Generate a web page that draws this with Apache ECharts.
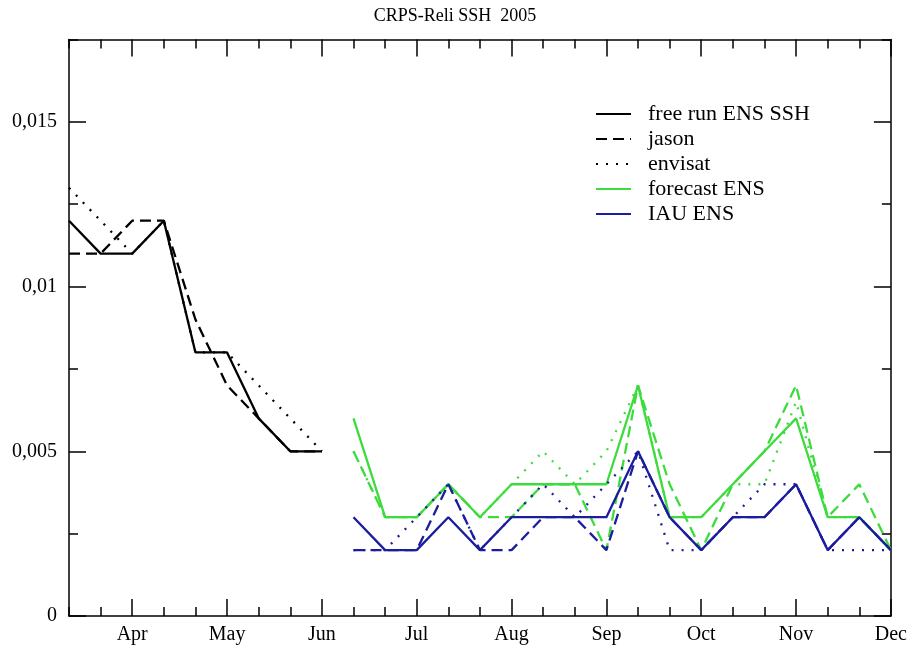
<!DOCTYPE html>
<html>
<head>
<meta charset="utf-8">
<script src="https://cdn.jsdelivr.net/npm/echarts@6/dist/echarts.min.js"></script>
<style>
html,body{margin:0;padding:0;background:#fff;}
#chart{width:910px;height:647px;}
</style>
</head>
<body>
<div id="chart"></div>
<script>
// ---- data ----
const monthPos    = [2, 5, 8, 11, 14, 17, 20, 23, 26];
const monthLabels = ['Apr', 'May', 'Jun', 'Jul', 'Aug', 'Sep', 'Oct', 'Nov', 'Dec'];
const yTicks      = [0, 0.005, 0.01, 0.015];

// free-run period (dekad index)
const freeRunX = [0, 1, 2, 3, 4, 5, 6, 7, 8];
const freeRun  = [0.012, 0.011, 0.011, 0.012, 0.008, 0.008, 0.006, 0.005, 0.005];
const jason    = [0.011, 0.011, 0.012, 0.012, 0.009, 0.007, 0.006, 0.005, 0.005];
const envisat  = [0.013, 0.012, 0.011, 0.012, 0.008, 0.008, 0.007, 0.006, 0.005];

// assimilation period (dekad index)
const assimX     = [9, 10, 11, 12, 13, 14, 15, 16, 17, 18, 19, 20, 21, 22, 23, 24, 25, 26];
const fcEns      = [0.006, 0.003, 0.003, 0.004, 0.003, 0.004, 0.004, 0.004, 0.004, 0.007, 0.003, 0.003, 0.004, 0.005, 0.006, 0.003, 0.003, 0.002];
const fcJason    = [0.005, 0.003, 0.003, 0.004, 0.003, 0.003, 0.004, 0.004, 0.002, 0.007, 0.004, 0.002, 0.004, 0.005, 0.007, 0.003, 0.004, 0.002];
const fcEnvisat  = [0.005, 0.003, 0.003, 0.004, 0.003, 0.004, 0.005, 0.004, 0.005, 0.007, 0.003, 0.003, 0.004, 0.004, 0.0065, 0.003, 0.003, 0.002];
const iauEns     = [0.003, 0.002, 0.002, 0.003, 0.002, 0.003, 0.003, 0.003, 0.003, 0.005, 0.003, 0.002, 0.003, 0.003, 0.004, 0.002, 0.003, 0.002];
const iauJason   = [0.002, 0.002, 0.002, 0.004, 0.002, 0.002, 0.003, 0.003, 0.002, 0.005, 0.003, 0.002, 0.003, 0.003, 0.004, 0.002, 0.003, 0.002];
const iauEnvisat = [0.002, 0.002, 0.003, 0.004, 0.002, 0.003, 0.004, 0.003, 0.004, 0.005, 0.002, 0.002, 0.003, 0.004, 0.004, 0.002, 0.002, 0.002];

// ---- styling ----
const SERIF = '"Liberation Serif", "DejaVu Serif", serif';
const BLACK = '#000000';
const GREEN = '#3ddc3d';
const BLUE  = '#1c1c9e';
const SOLID = 'solid';
const DASH  = [11, 6];
const DOT   = [2, 8];

function pairs(xs, ys) { return xs.map((x, i) => [x, ys[i]]); }

function lineSeries(name, xs, ys, color, type) {
  return {
    name: name,
    type: 'line',
    xAxisIndex: 0,
    yAxisIndex: 0,
    data: pairs(xs, ys),
    symbol: 'none',
    showSymbol: false,
    silent: true,
    animation: false,
    lineStyle: { color: color, width: 2.3, type: type, cap: 'butt' },
    itemStyle: { color: color }
  };
}

const axisLineStyle = { color: '#000', width: 1.5 };

function xAxisDef(position, major) {
  const base = {
    type: 'value', min: 0, max: 26, position: position,
    splitLine: { show: false },
    axisLine: { show: major, onZero: false, lineStyle: axisLineStyle },
    axisLabel: { show: false },
    axisPointer: { show: false }
  };
  if (major) {
    base.axisTick = { show: true, inside: true, length: 17, customValues: monthPos, lineStyle: axisLineStyle };
    if (position === 'bottom') {
      base.axisLabel = {
        show: true, customValues: monthPos, margin: 9,
        fontFamily: SERIF, fontSize: 20, color: '#000',
        formatter: v => monthLabels[monthPos.indexOf(Math.round(v))] || ''
      };
    }
  } else {
    base.interval = 1;
    base.axisTick = { show: true, inside: true, length: 9, lineStyle: axisLineStyle };
  }
  return base;
}

function yAxisDef(position, major) {
  const base = {
    type: 'value', min: 0, max: 0.0175, position: position,
    splitLine: { show: false },
    axisLine: { show: major, onZero: false, lineStyle: axisLineStyle },
    axisLabel: { show: false },
    axisPointer: { show: false }
  };
  if (major) {
    base.axisTick = { show: true, inside: true, length: 17, customValues: yTicks, lineStyle: axisLineStyle };
    if (position === 'left') {
      base.axisLabel = {
        show: true, customValues: yTicks, margin: 12,
        fontFamily: SERIF, fontSize: 20, color: '#000',
        formatter: v => String(v).replace('.', ',')
      };
    }
  } else {
    base.interval = 0.0025;
    base.axisTick = { show: true, inside: true, length: 9, lineStyle: axisLineStyle };
  }
  return base;
}

const chart = echarts.init(document.getElementById('chart'), null, { renderer: 'canvas' });

chart.setOption({
  animation: false,
  backgroundColor: '#ffffff',
  title: {
    text: 'CRPS-Reli SSH  2005',
    left: 'center',
    top: 2,
    textStyle: { fontFamily: SERIF, fontSize: 18, fontWeight: 'normal', color: '#000' }
  },
  legend: {
    data: ['free run ENS SSH', 'jason', 'envisat', 'forecast ENS', 'IAU ENS'],
    orient: 'vertical',
    left: 595,
    top: 103,
    padding: 0,
    itemWidth: 35,
    itemHeight: 14,
    itemGap: 3,
    selectedMode: false,
    itemStyle: { opacity: 0, borderWidth: 0 },
    textStyle: { fontFamily: SERIF, fontSize: 22, color: '#000', padding: [0, 0, 0, 12] }
  },
  grid: { left: 69, right: 18, top: 39.5, bottom: 31, containLabel: false },
  xAxis: [
    xAxisDef('bottom', true),
    xAxisDef('bottom', false),
    xAxisDef('top', true),
    xAxisDef('top', false)
  ],
  yAxis: [
    yAxisDef('left', true),
    yAxisDef('left', false),
    yAxisDef('right', true),
    yAxisDef('right', false)
  ],
  series: [
    lineSeries('envisat', freeRunX, envisat, BLACK, DOT),
    lineSeries('jason', freeRunX, jason, BLACK, DASH),
    lineSeries('free run ENS SSH', freeRunX, freeRun, BLACK, SOLID),
    lineSeries('forecast envisat', assimX, fcEnvisat, GREEN, DOT),
    lineSeries('forecast jason', assimX, fcJason, GREEN, DASH),
    lineSeries('forecast ENS', assimX, fcEns, GREEN, SOLID),
    lineSeries('IAU envisat', assimX, iauEnvisat, BLUE, DOT),
    lineSeries('IAU jason', assimX, iauJason, BLUE, DASH),
    lineSeries('IAU ENS', assimX, iauEns, BLUE, SOLID)
  ]
});
</script>
</body>
</html>
